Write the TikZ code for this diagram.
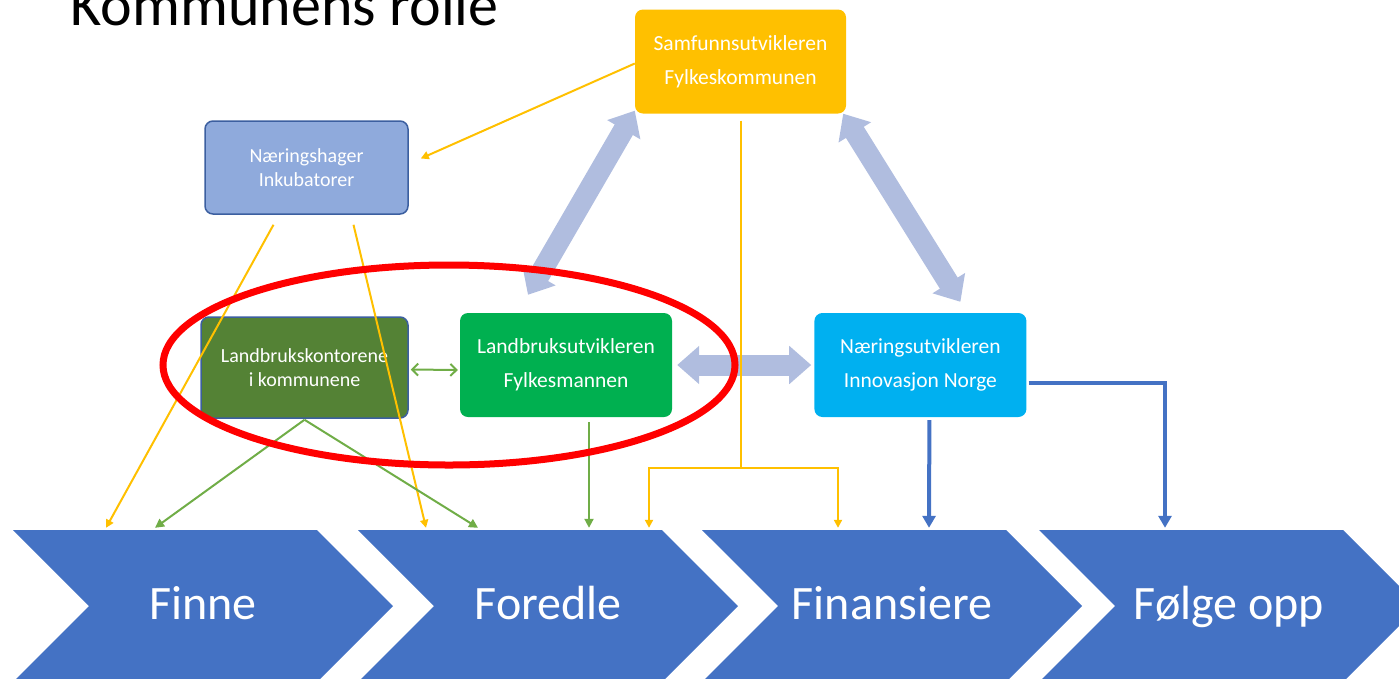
\documentclass[tikz,border=0pt]{standalone}
\usepackage{fontspec}
\setmainfont{Carlito}
\usetikzlibrary{arrows.meta}
\usetikzlibrary{positioning}
\usetikzlibrary{shapes.symbols}

\definecolor{gul}{RGB}{255,192,0}
\definecolor{hagebla}{RGB}{143,170,220}
\definecolor{kontorgronn}{RGB}{84,130,53}
\definecolor{lysgronn}{RGB}{0,176,80}
\definecolor{lysbla}{RGB}{0,176,240}
\definecolor{stegbla}{RGB}{68,114,196}
\definecolor{pilgronn}{RGB}{112,173,71}
\definecolor{blokkbla}{RGB}{176,189,223}
\definecolor{kant}{RGB}{60,95,160}

\tikzset{
  box/.style={rounded corners=8pt,minimum width=212pt,minimum height=104pt,inner sep=0pt,
    align=center,text=white,font=\fontsize{21.5}{34}\selectfont},
  smallbox/.style={box,minimum width=205pt,minimum height=95pt,draw=kant,line width=1.5pt,
    font=\fontsize{20}{24}\selectfont},
  stegboks/.style={signal,signal to=east,signal from=west,signal pointer angle=90,
    minimum width=380pt,minimum height=152pt,inner sep=0pt,fill=stegbla,text=white,
    text height=34pt,text depth=8pt,font=\fontsize{48}{50}\selectfont},
  ylw/.style={gul,line width=2pt,-{Triangle[width=8pt,length=8pt]}},
  grn/.style={pilgronn,line width=2pt,-{Triangle[width=9pt,length=9pt]}},
  blu/.style={stegbla,line width=4pt,-{Triangle[width=13pt,length=12pt]}},
  blk/.style={blokkbla,line width=21pt,{Triangle[width=37pt,length=22pt]}-{Triangle[width=37pt,length=22pt]}}
}

\begin{document}
\begin{tikzpicture}[x=1pt,y=-1pt]
  \useasboundingbox (0,0) rectangle (1399,678);
  \node[anchor=base west,font=\fontsize{60}{62}\selectfont] (tittel) at (67,25) {Kommunens rolle};

  \node[box,fill=gul,minimum width=211pt] (samf) at (740.5,61.5) {Samfunnsutvikleren\\Fylkeskommunen};
  \node[smallbox,fill=hagebla,minimum width=203pt,minimum height=93pt] (hage) at (306.5,167.5) {Næringshager\\Inkubatorer};
  \node[smallbox,fill=kontorgronn,minimum width=207pt,minimum height=101pt] (kontor) at (304.5,367.5) {Landbrukskontorene\\i kommunene};
  \node[box,fill=lysgronn] (lutv) at (566,365) {Landbruksutvikleren\\Fylkesmannen};
  \node[box,fill=lysbla,right=142pt of lutv] (nutv) {Næringsutvikleren\\Innovasjon Norge};

  \foreach \x/\navn/\tekst in {13/finne/Finne,358/foredle/Foredle,702/finans/Finansiere,1039/folge/Følge opp}
    \node[stegboks] (\navn) at (\x+190,606) {\tekst};

  \draw[blk] ([xshift=-38pt,yshift=18pt]lutv.north) -- ([yshift=3pt]samf.south west);
  \draw[blk] ([xshift=40pt,yshift=11pt]nutv.north) -- ([xshift=-3pt]samf.south east);
  \draw[blk] ([xshift=5pt]lutv.east) -- ([xshift=-3pt]nutv.west);

  \draw[ylw] ([yshift=-2pt]samf.west) -- ([xshift=12pt,yshift=9pt]hage.east);
  \draw[ylw] ([xshift=-33pt,yshift=-10pt]hage.south) -- ([xshift=-97pt,yshift=2pt]finne.north);
  \draw[ylw] ([xshift=47pt,yshift=-10pt]hage.south) -- ([xshift=-122pt,yshift=2pt]foredle.north);
  \draw[ylw,-] ([yshift=-7pt]samf.south) -- ++(0,347) coordinate (deling);
  \draw[ylw] (deling) -| ([xshift=101pt,yshift=2pt]foredle.north);
  \draw[ylw] (deling) -| ([xshift=-54pt,yshift=2pt]finans.north);

  \draw[grn,{Straight Barb[width=12pt,length=6pt]}-{Straight Barb[width=12pt,length=6pt]}]
    ([xshift=2pt,yshift=-2pt]kontor.east) -- ([xshift=-2pt,yshift=-5pt]lutv.west);
  \draw[grn] ([yshift=-1pt]kontor.south) -- ([xshift=-48pt,yshift=2pt]finne.north);
  \draw[grn] ([yshift=-1pt]kontor.south) -- ([xshift=-70pt,yshift=2pt]foredle.north);
  \draw[grn] ([xshift=23pt,yshift=-5pt]lutv.south) -- ([xshift=41pt,yshift=2pt]foredle.north);

  \draw[blu] ([xshift=9pt,yshift=-3pt]nutv.south) -- ([xshift=37pt,yshift=2pt]finans.north);
  \draw[blu] ([xshift=2pt,yshift=-18pt]nutv.east) -| ([xshift=-64pt,yshift=2pt]folge.north);

  \draw[red,line width=7pt] (449,365) ellipse [x radius=286,y radius=100];
\end{tikzpicture}
\end{document}
